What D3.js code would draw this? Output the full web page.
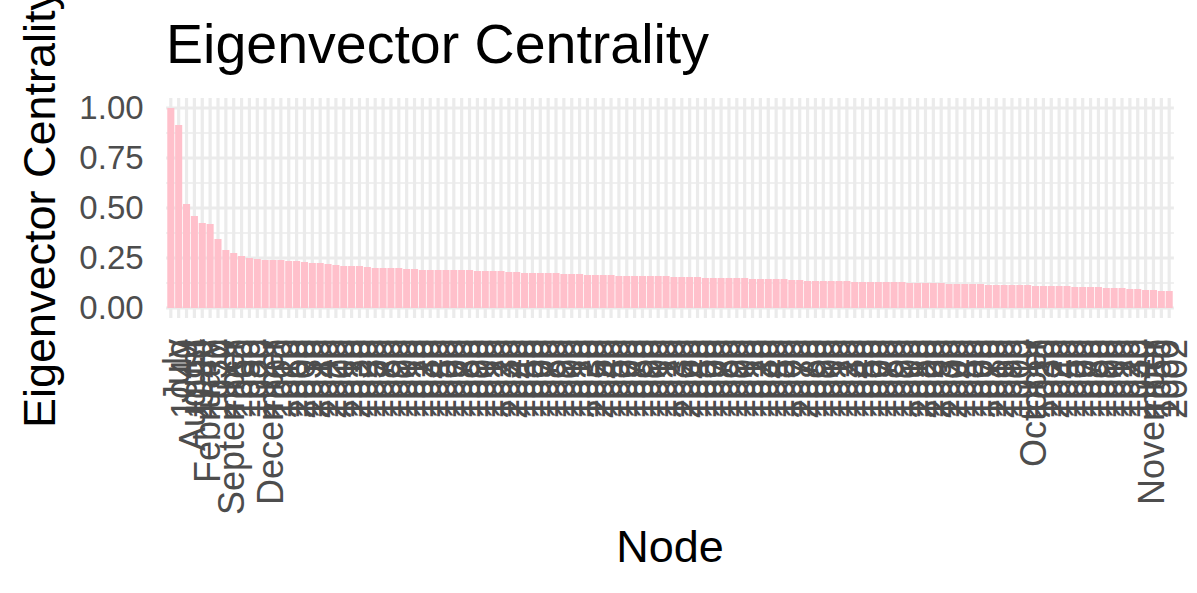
<!DOCTYPE html>
<html>
<head>
<meta charset="utf-8">
<script src="https://cdn.jsdelivr.net/npm/d3@7"></script>
<style>
  html, body { margin: 0; padding: 0; background: #ffffff; }
  svg { display: block; }
  text { font-family: "Liberation Sans", Arial, Helvetica, sans-serif; }
</style>
</head>
<body>
<svg id="chart" width="1197" height="593"></svg>
<script>
// ---- data ----
const titleText = "Eigenvector Centrality";
const xTitle = "Node";
const yTitle = "Eigenvector Centrality";

const nodeLabels = [
  "July","1040","August","1090","February","1030","1070","September","1060","1050",
  "1080","1020","December","1000","1010","1060","2000","1030","2010","1040",
  "2020","1000","1010","2030","1020","1050","1070","1080","1090","1000",
  "1010","1020","1030","1040","1050","1060","1070","1080","1090","1000",
  "1010","1020","1030","2040","1040","1050","1060","1070","1080","1090",
  "1000","1010","1020","1030","2050","1040","1050","1060","1070","1080",
  "1090","1000","1010","1020","1030","2060","1040","1050","1060","1070",
  "1080","1090","1000","1010","1020","1030","1040","1050","1060","1070",
  "2070","1080","1090","1000","1010","1020","1030","1040","1050","1060",
  "1070","1080","1090","1000","1010","2080","1020","2090","1030","2000",
  "1040","1050","1060","1070","1080","2010","1090","1000","1010","October",
  "1020","1030","2020","1040","1050","1060","1070","1080","1090","1000",
  "1010","1020","1030","1040","November","1050","1060","2002"
];

const centrality = [
  1.0, 0.915, 0.52, 0.46, 0.425, 0.42, 0.345, 0.29, 0.275, 0.26,
  0.25, 0.245, 0.24, 0.24, 0.24, 0.235, 0.235, 0.23, 0.225, 0.225,
  0.22, 0.215, 0.21, 0.21, 0.21, 0.205, 0.2, 0.2, 0.2, 0.2,
  0.195, 0.195, 0.19, 0.19, 0.19, 0.19, 0.19, 0.19, 0.19, 0.185,
  0.185, 0.185, 0.185, 0.18, 0.18, 0.175, 0.175, 0.175, 0.175, 0.175,
  0.17, 0.17, 0.17, 0.165, 0.165, 0.165, 0.165, 0.16, 0.16, 0.16,
  0.16, 0.16, 0.16, 0.16, 0.155, 0.155, 0.155, 0.155, 0.15, 0.15,
  0.15, 0.15, 0.15, 0.15, 0.145, 0.145, 0.145, 0.145, 0.145, 0.14,
  0.14, 0.135, 0.135, 0.135, 0.135, 0.135, 0.135, 0.13, 0.13, 0.13,
  0.13, 0.13, 0.13, 0.13, 0.125, 0.125, 0.125, 0.125, 0.125, 0.12,
  0.12, 0.12, 0.12, 0.12, 0.115, 0.115, 0.115, 0.115, 0.115, 0.115,
  0.11, 0.11, 0.11, 0.11, 0.11, 0.105, 0.105, 0.105, 0.105, 0.1,
  0.1, 0.1, 0.095, 0.095, 0.09, 0.09, 0.085, 0.085
];

const yMajorTicks = [0, 0.25, 0.5, 0.75, 1.0];
const yMinorTicks = [0.125, 0.375, 0.625, 0.875];

// ---- layout ----
const panel = { left: 166.1, right: 1173.9, top: 98, bottom: 318 };
const gridColor = "#EBEBEB";
const barColor = "#FFC0CB";
const tickColor = "#4D4D4D";

const svg = d3.select("#chart");
const idx = d3.range(centrality.length);

const x = d3.scaleBand()
  .domain(idx)
  .range([panel.left, panel.right])
  .paddingInner(0.1)
  .paddingOuter(0.15);

const y = d3.scaleLinear()
  .domain([-0.05, 1.05])
  .range([panel.bottom, panel.top]);

const grid = svg.append("g");
// minor horizontal
grid.selectAll("line.minor").data(yMinorTicks).join("line")
  .attr("x1", panel.left).attr("x2", panel.right)
  .attr("y1", d => y(d)).attr("y2", d => y(d))
  .attr("stroke", gridColor).attr("stroke-width", 1.6);
// major horizontal
grid.selectAll("line.majorY").data(yMajorTicks).join("line")
  .attr("x1", panel.left).attr("x2", panel.right)
  .attr("y1", d => y(d)).attr("y2", d => y(d))
  .attr("stroke", gridColor).attr("stroke-width", 3.2);
// major vertical
grid.selectAll("line.majorX").data(idx).join("line")
  .attr("x1", d => x(d) + x.bandwidth() / 2).attr("x2", d => x(d) + x.bandwidth() / 2)
  .attr("y1", panel.top).attr("y2", panel.bottom)
  .attr("stroke", gridColor).attr("stroke-width", 3.2);

// bars
svg.append("g").selectAll("rect").data(idx).join("rect")
  .attr("x", d => x(d))
  .attr("width", x.bandwidth())
  .attr("y", d => y(centrality[d]))
  .attr("height", d => y(0) - y(centrality[d]))
  .attr("fill", barColor);

// y axis
const yAxis = svg.append("g")
  .attr("transform", `translate(${panel.left},0)`)
  .call(d3.axisLeft(y).tickValues(yMajorTicks).tickFormat(d3.format(".2f")).tickSize(0).tickPadding(22.5));
yAxis.select(".domain").remove();
yAxis.selectAll("text")
  .attr("fill", tickColor)
  .attr("dy", "0.32em")
  .style("font-size", "33px");

// x axis
const xAxis = svg.append("g")
  .attr("transform", `translate(0,${panel.bottom})`)
  .call(d3.axisBottom(x).tickFormat(d => nodeLabels[d]).tickSize(0));
xAxis.select(".domain").remove();
xAxis.selectAll("text")
  .attr("fill", tickColor)
  .attr("transform", "rotate(-90)")
  .attr("x", -21)
  .attr("y", 0)
  .attr("dy", "0.5em")
  .style("text-anchor", "end")
  .style("font-size", "36px");

// title
svg.append("text")
  .attr("x", panel.left)
  .attr("y", 63)
  .attr("fill", "#000")
  .style("font-size", "55.5px")
  .text(titleText);

// x title
svg.append("text")
  .attr("x", (panel.left + panel.right) / 2)
  .attr("y", 562)
  .attr("text-anchor", "middle")
  .attr("fill", "#000")
  .style("font-size", "45px")
  .text(xTitle);

// y title
svg.append("text")
  .attr("transform", `translate(55,${(panel.top + panel.bottom) / 2}) rotate(-90)`)
  .attr("text-anchor", "middle")
  .attr("fill", "#000")
  .style("font-size", "45px")
  .text(yTitle);
</script>
</body>
</html>
